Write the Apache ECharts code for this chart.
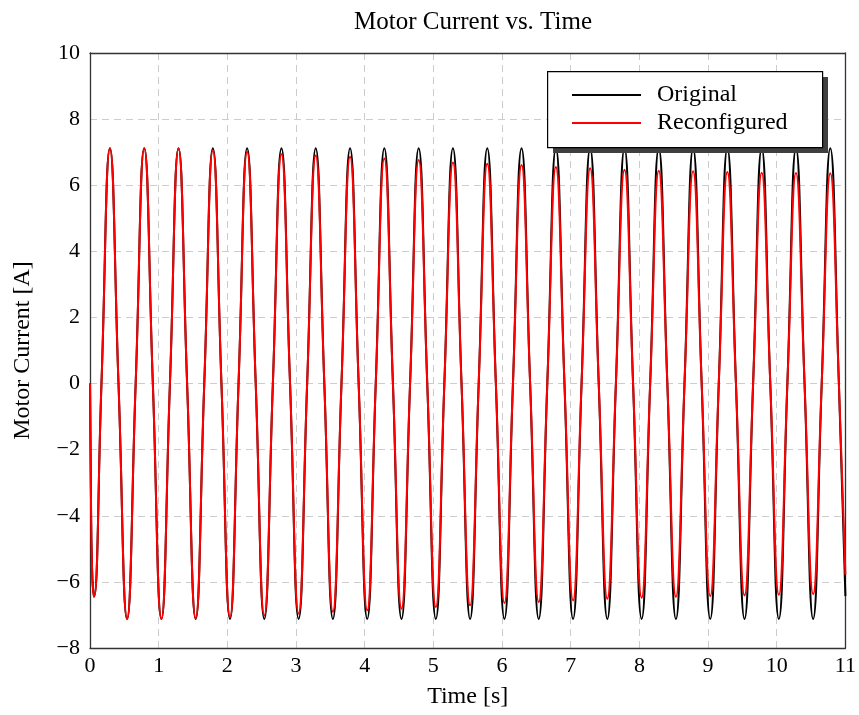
<!DOCTYPE html>
<html>
<head>
<meta charset="utf-8">
<title>Motor Current vs. Time</title>
<script src="https://cdn.jsdelivr.net/npm/echarts@6/dist/echarts.min.js"></script>
<style>
  html, body { margin: 0; padding: 0; background: #ffffff; }
  #chart { width: 859px; height: 715px; }
</style>
</head>
<body>
<div id="chart"></div>
<script>
// Sample instants [s]: start-up transient, then peak / falling zero / trough / rising zero of each cycle
const time = [
  0, 0.012, 0.030, 0.058, 0.167,
  0.290, 0.415, 0.540, 0.665,
  0.790, 0.915, 1.040, 1.164,
  1.289, 1.414, 1.539, 1.664,
  1.789, 1.914, 2.039, 2.163,
  2.288, 2.413, 2.538, 2.663,
  2.788, 2.913, 3.038, 3.162,
  3.287, 3.412, 3.537, 3.662,
  3.787, 3.912, 4.037, 4.161,
  4.286, 4.411, 4.536, 4.661,
  4.786, 4.911, 5.036, 5.160,
  5.285, 5.410, 5.535, 5.660,
  5.785, 5.910, 6.035, 6.159,
  6.284, 6.409, 6.534, 6.659,
  6.784, 6.909, 7.034, 7.158,
  7.283, 7.408, 7.533, 7.658,
  7.783, 7.908, 8.033, 8.157,
  8.282, 8.407, 8.532, 8.657,
  8.782, 8.907, 9.032, 9.156,
  9.281, 9.406, 9.531, 9.656,
  9.781, 9.906, 10.031, 10.155,
  10.280, 10.405, 10.530, 10.655,
  10.780, 10.905, 11.000
];

// Motor current [A], original controller
const originalCurrent = [
  0, -3.0, -5.6, -6.45, 0,
  7.12, 0, -7.12, 0,
  7.12, 0, -7.12, 0,
  7.12, 0, -7.12, 0,
  7.12, 0, -7.12, 0,
  7.12, 0, -7.12, 0,
  7.12, 0, -7.12, 0,
  7.12, 0, -7.12, 0,
  7.12, 0, -7.12, 0,
  7.12, 0, -7.12, 0,
  7.12, 0, -7.12, 0,
  7.12, 0, -7.12, 0,
  7.12, 0, -7.12, 0,
  7.12, 0, -7.12, 0,
  7.12, 0, -7.12, 0,
  7.12, 0, -7.12, 0,
  7.12, 0, -7.12, 0,
  7.12, 0, -7.12, 0,
  7.12, 0, -7.12, 0,
  7.12, 0, -7.12, 0,
  7.12, 0, -7.12, 0,
  7.12, 0, -7.12, 0,
  7.12, 0, -6.43
];

// Motor current [A], reconfigured controller
const reconfiguredCurrent = [
  0, -3.0, -5.6, -6.45, 0,
  7.12, 0, -7.12, 0,
  7.12, 0, -7.12, 0,
  7.10, 0, -7.10, 0,
  7.06, 0, -7.07, 0,
  7.01, 0, -7.02, 0,
  6.94, 0, -6.96, 0,
  6.90, 0, -6.90, 0,
  6.86, 0, -6.86, 0,
  6.81, 0, -6.81, 0,
  6.76, 0, -6.76, 0,
  6.69, 0, -6.71, 0,
  6.65, 0, -6.64, 0,
  6.61, 0, -6.61, 0,
  6.55, 0, -6.56, 0,
  6.51, 0, -6.51, 0,
  6.47, 0, -6.48, 0,
  6.44, 0, -6.45, 0,
  6.42, 0, -6.43, 0,
  6.40, 0, -6.41, 0,
  6.38, 0, -6.39, 0,
  6.37, 0, -6.37, 0,
  6.36, 0, -5.78
];

const xTicks = [0, 1, 2, 3, 4, 5, 6, 7, 8, 9, 10, 11];
const yTicks = [-8, -6, -4, -2, 0, 2, 4, 6, 8, 10];
const seriesNames = ['Original', 'Reconfigured'];

const FONT = 'Liberation Serif';
const pairs = (ys) => time.map((t, i) => [t, ys[i]]);
const minus = (v) => String(v).replace('-', '\u2212');

const chart = echarts.init(document.getElementById('chart'), null, { renderer: 'canvas' });

const gridLine = { show: true, lineStyle: { color: '#cccccc', width: 1, type: [7, 5] } };
const frameLine = { show: true, onZero: false, lineStyle: { color: '#333333', width: 1.3 } };

chart.setOption({
  animation: false,
  backgroundColor: '#ffffff',
  title: {
    text: 'Motor Current vs. Time',
    left: 468, top: 5, textAlign: 'center',
    textStyle: { fontFamily: FONT, fontSize: 25, fontWeight: 'normal', color: '#000' }
  },
  grid: { left: 90, right: 13, top: 53, bottom: 67 },
  xAxis: [{
    type: 'value', position: 'bottom',
    min: xTicks[0], max: xTicks[xTicks.length - 1], interval: 1,
    axisLine: frameLine, axisTick: { show: false },
    splitLine: gridLine,
    axisLabel: { margin: 7, fontFamily: FONT, fontSize: 22, color: '#000', formatter: minus },
    name: 'Time [s]', nameLocation: 'middle', nameGap: 37,
    nameTextStyle: { fontFamily: FONT, fontSize: 24, color: '#000' }
  }, {
    type: 'value', position: 'top',
    min: xTicks[0], max: xTicks[xTicks.length - 1], interval: 1,
    axisLine: frameLine, axisTick: { show: false }, axisLabel: { show: false }, splitLine: { show: false }
  }],
  yAxis: [{
    type: 'value', position: 'left',
    min: yTicks[0], max: yTicks[yTicks.length - 1], interval: 2,
    axisLine: frameLine, axisTick: { show: false },
    splitLine: gridLine,
    axisLabel: { margin: 10, fontFamily: FONT, fontSize: 22, color: '#000', formatter: minus },
    name: 'Motor Current [A]', nameLocation: 'middle', nameGap: 55, nameRotate: 90,
    nameTextStyle: { fontFamily: FONT, fontSize: 24, color: '#000' }
  }, {
    type: 'value', position: 'right',
    min: yTicks[0], max: yTicks[yTicks.length - 1], interval: 2,
    axisLine: frameLine, axisTick: { show: false }, axisLabel: { show: false }, splitLine: { show: false }
  }],
  graphic: [
    // legend frame with its hard drop shadow
    { type: 'rect', left: 553, top: 77, z: 5, shape: { width: 275, height: 76 }, style: { fill: '#404040' } },
    { type: 'rect', left: 547, top: 71, z: 6, shape: { width: 275, height: 76 }, style: { fill: '#ffffff', stroke: '#000000', lineWidth: 1.2 } }
  ],
  legend: {
    z: 10,
    orient: 'vertical', left: 547, top: 71,
    padding: [10, 10, 8, 25],
    itemGap: 0, itemWidth: 69, itemHeight: 2,
    icon: 'rect',
    data: seriesNames,
    textStyle: { fontFamily: FONT, fontSize: 24, color: '#000', lineHeight: 28, padding: [0, 0, 0, 11] }
  },
  series: [{
    name: seriesNames[0], type: 'line', data: pairs(originalCurrent),
    smooth: 0.5, showSymbol: false, symbol: 'none',
    itemStyle: { color: '#000000' },
    lineStyle: { color: '#000000', width: 2 }
  }, {
    name: seriesNames[1], type: 'line', data: pairs(reconfiguredCurrent),
    smooth: 0.5, showSymbol: false, symbol: 'none',
    itemStyle: { color: '#ff0000' },
    lineStyle: { color: '#ff0000', width: 2 }
  }]
});
</script>
</body>
</html>
